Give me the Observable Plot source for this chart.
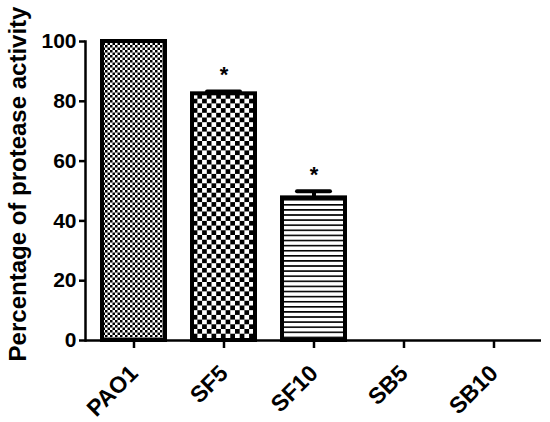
<!DOCTYPE html>
<html>
<head>
<meta charset="utf-8">
<script src="https://cdn.jsdelivr.net/npm/d3@7"></script>
<script src="https://cdn.jsdelivr.net/npm/@observablehq/plot@0.6"></script>
<style>
  html, body { margin: 0; padding: 0; background: #fff; }
  #chart { width: 550px; height: 422px; }
</style>
</head>
<body>
<div id="chart"></div>
<script>
// ---- data ----
const categories = ["PAO1", "SF5", "SF10", "SB5", "SB10"];
const values = [100, 82.5, 47.7, 0, 0];
const errors = [0, 0.8, 2.2, 0, 0];
const significant = [false, true, true, false, false];
const yTicks = [0, 20, 40, 60, 80, 100];
const yLabel = "Percentage of protease activity";

const data = categories.map((c, i) => ({
  cat: c, value: values[i], err: errors[i], sig: significant[i]
}));

// pattern per category (styling only)
const patternOf = {PAO1: "url(#pFine)", SF5: "url(#pCoarse)", SF10: "url(#pLines)", SB5: "white", SB10: "white"};

const font = "'Liberation Sans', Arial, sans-serif";

const plot = Plot.plot({
  width: 550,
  height: 422,
  marginLeft: 85,
  marginRight: 9,
  marginTop: 41,
  marginBottom: 82,
  style: {fontFamily: font, fontWeight: "bold", background: "white", color: "black"},
  x: {domain: categories, paddingInner: 0.3, paddingOuter: 0.18, label: null},
  y: {domain: [0, 100], label: null},
  marks: [
    Plot.barY(data.filter(d => d.value > 0), {
      x: "cat", y: "value",
      fill: d => patternOf[d.cat],
      stroke: "black", strokeWidth: 4
    }),
    Plot.ruleX(data.filter(d => d.err > 0), {
      x: "cat", y1: "value", y2: d => d.value + d.err,
      stroke: "black", strokeWidth: 4
    }),
    Plot.tickY(data.filter(d => d.err > 0), {
      x: "cat", y: d => d.value + d.err,
      stroke: "black", strokeWidth: 4, strokeLinecap: "round",
      insetLeft: 15, insetRight: 15
    }),
    Plot.text(data.filter(d => d.sig), {
      x: "cat", y: d => d.value + d.err, text: () => "*",
      fontSize: 22, fontWeight: "bold", lineAnchor: "top", dy: -25
    }),
    Plot.axisY({
      ticks: yTicks, tickSize: 6, tickPadding: 3, fontSize: 21,
      strokeWidth: 2.5, label: null
    }),
    Plot.axisX({
      tickSize: 8, tickPadding: 21, tickRotate: -45, fontSize: 23,
      strokeWidth: 2.5, label: null
    }),
    Plot.ruleY([0], {stroke: "black", strokeWidth: 2.5}),
    Plot.frame({anchor: "left", stroke: "black", strokeWidth: 2.5}),
    Plot.text([yLabel], {
      frameAnchor: "left", rotate: -90, dx: -67, dy: -7,
      textAnchor: "middle", fontSize: 24, fontWeight: "bold"
    })
  ]
});

// add pattern definitions
const defs = `
<defs>
  <pattern id="pFine" width="5" height="5" patternUnits="userSpaceOnUse">
    <rect width="5" height="5" fill="white"/>
    <rect width="2.5" height="2.5" fill="black"/>
    <rect x="2.5" y="2.5" width="2.5" height="2.5" fill="black"/>
  </pattern>
  <pattern id="pCoarse" width="9.4" height="9.4" patternUnits="userSpaceOnUse">
    <rect width="9.4" height="9.4" fill="white"/>
    <rect width="4.7" height="4.7" fill="black"/>
    <rect x="4.7" y="4.7" width="4.7" height="4.7" fill="black"/>
  </pattern>
  <pattern id="pLines" width="10" height="5.1" patternUnits="userSpaceOnUse">
    <rect width="10" height="5.1" fill="white"/>
    <rect y="0" width="10" height="1.6" fill="black"/>
  </pattern>
</defs>`;
plot.insertAdjacentHTML("afterbegin", defs);
document.getElementById("chart").appendChild(plot);
</script>
</body>
</html>
